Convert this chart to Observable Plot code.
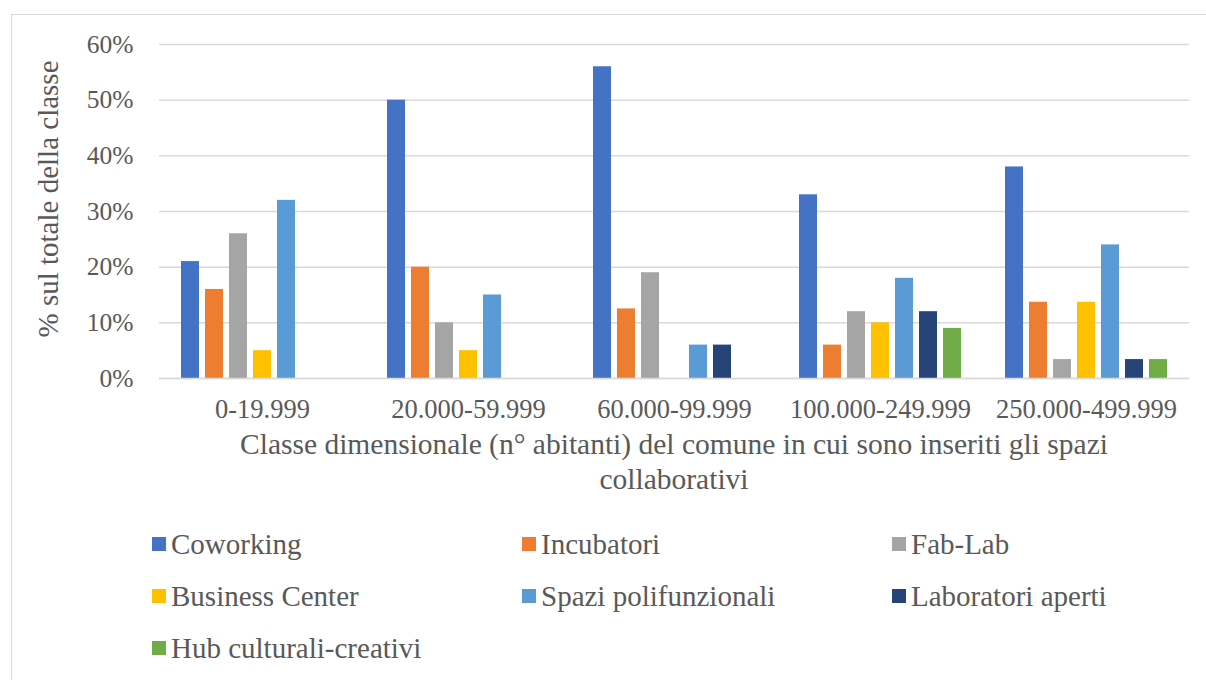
<!DOCTYPE html>
<html>
<head>
<meta charset="utf-8">
<script src="https://cdn.jsdelivr.net/npm/d3@7"></script>
<script src="https://cdn.jsdelivr.net/npm/@observablehq/plot@0.6"></script>
<style>
  html, body { margin: 0; padding: 0; background: #fff; }
  #wrap { position: relative; width: 1206px; height: 680px; overflow: hidden;
          font-family: "Liberation Serif", "Times New Roman", serif; color: #595959; }
  #frame { position: absolute; left: 11px; top: 14px; width: 1300px; height: 800px;
           border-left: 1.5px solid #d9d9d9; border-top: 1.5px solid #d9d9d9; box-sizing: border-box; }
  #chart { position: absolute; left: 0; top: 0; }
  #ylabel { position: absolute; left: 48px; top: 199px; transform: translate(-50%, -50%) rotate(-90deg);
            white-space: nowrap; font-size: 29px; line-height: 1; }
  #xtitle { position: absolute; left: 158px; width: 1032px; top: 427px; text-align: center;
            font-size: 29.5px; line-height: 35px; white-space: nowrap; }
  #legend { position: absolute; left: 152px; top: 518px; display: grid;
            grid-template-columns: 370px 370px 300px; grid-auto-rows: 52px; font-size: 29px; }
  .item { display: flex; align-items: center; white-space: nowrap; }
  .sw { width: 14px; height: 14px; margin-right: 5px; flex: none; }
</style>
</head>
<body>
<div id="wrap">
  <div id="frame"></div>
  <div id="chart"></div>
  <div id="ylabel"></div>
  <div id="xtitle"></div>
  <div id="legend"></div>
</div>
<script>
const categories = ["0-19.999", "20.000-59.999", "60.000-99.999", "100.000-249.999", "250.000-499.999"];
const seriesNames = ["Coworking", "Incubatori", "Fab-Lab", "Business Center", "Spazi polifunzionali", "Laboratori aperti", "Hub culturali-creativi"];
const seriesColors = ["#4472C4", "#ED7D31", "#A5A5A5", "#FFC000", "#5B9BD5", "#264478", "#70AD47"];

// values in % per category
const coworking = [21, 50, 56, 33, 38];
const incubatori = [16, 20, 12.5, 6, 13.7];
const fabLab = [26, 10, 19, 12, 3.4];
const businessCenter = [5, 5, 0, 10, 13.7];
const spaziPolifunzionali = [32, 15, 6, 18, 24];
const laboratoriAperti = [0, 0, 6, 12, 3.4];
const hubCulturali = [0, 0, 0, 9, 3.4];

const yTicks = [0, 0.1, 0.2, 0.3, 0.4, 0.5, 0.6];
const yLabel = "% sul totale della classe";
const xTitleLines = ["Classe dimensionale (n° abitanti) del comune in cui sono inseriti gli spazi", "collaborativi"];

const seriesValues = [coworking, incubatori, fabLab, businessCenter, spaziPolifunzionali, laboratoriAperti, hubCulturali];
const data = [];
seriesNames.forEach((s, i) => {
  categories.forEach((c, j) => {
    data.push({cat: c, series: s, value: seriesValues[i][j] / 100});
  });
});

const fmt = d3.format(".0%");

const chart = Plot.plot({
  width: 1206,
  height: 440,
  marginLeft: 158,
  marginRight: 16,
  marginTop: 44,
  marginBottom: 62,
  style: {fontFamily: "'Liberation Serif', 'Times New Roman', serif", fontSize: "25px", color: "#595959", background: "transparent", overflow: "visible"},
  fx: {domain: categories, padding: 0, label: null},
  x: {domain: seriesNames, paddingInner: 0.23, paddingOuter: 0.86, axis: null},
  y: {domain: [0, 0.6], label: null},
  color: {domain: seriesNames, range: seriesColors},
  marks: [
    Plot.gridY(yTicks, {stroke: "#d9d9d9", strokeOpacity: 1, strokeWidth: 1.5}),
    Plot.axisY(yTicks, {tickSize: 0, tickPadding: 26, tickFormat: fmt, label: null, fontSize: 25.5, fill: "#595959"}),
    Plot.axisFx({anchor: "bottom", tickSize: 0, tickPadding: 21, label: null, fontSize: 26.5, fill: "#595959"}),
    Plot.barY(data, {fx: "cat", x: "series", y: "value", fill: "series"}),
    Plot.ruleY([0], {stroke: "#d9d9d9", strokeWidth: 1.5})
  ]
});
document.getElementById("chart").appendChild(chart);

document.getElementById("ylabel").textContent = yLabel;
document.getElementById("xtitle").innerHTML = xTitleLines.join("<br>");

const legend = document.getElementById("legend");
seriesNames.forEach((s, i) => {
  const it = document.createElement("div");
  it.className = "item";
  const sw = document.createElement("span");
  sw.className = "sw";
  sw.style.background = seriesColors[i];
  const t = document.createElement("span");
  t.textContent = s;
  it.appendChild(sw);
  it.appendChild(t);
  legend.appendChild(it);
});
</script>
</body>
</html>
